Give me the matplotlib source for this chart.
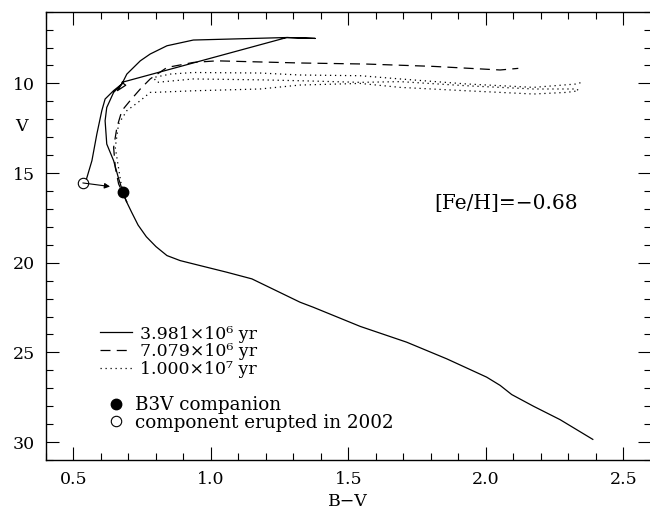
import matplotlib
matplotlib.use("Agg")
import matplotlib.pyplot as plt
from matplotlib.ticker import MultipleLocator

plt.rcParams['font.family'] = ['DejaVu Serif']
plt.rcParams['mathtext.fontset'] = 'dejavuserif'

# ---- data (B-V, V) ----
iso1_bv = [2.389, 2.27, 2.173, 2.094, 2.052, 2.003, 1.858, 1.712, 1.543, 1.372, 1.324,
           1.149, 1.058, 0.961, 0.888, 0.840, 0.800, 0.765, 0.735, 0.712, 0.694, 0.680,
           0.664, 0.646, 0.621, 0.615, 0.621, 0.646, 0.676, 0.660, 0.690, 0.676,
           1.276, 1.379, 1.276, 1.058, 0.936, 0.840, 0.779, 0.743, 0.694, 0.676,
           0.646, 0.615, 0.603, 0.585, 0.567, 0.549, 0.545]
iso1_v = [29.85, 28.75, 28.0, 27.35, 26.84, 26.38, 25.36, 24.43, 23.55, 22.48, 22.2,
          20.9, 20.53, 20.16, 19.88, 19.6, 19.1, 18.55, 17.9, 17.2, 16.63, 16.07,
          15.3, 14.31, 13.38, 12.08, 11.34, 10.5, 10.03, 10.4, 10.1, 9.94,
          7.44, 7.49, 7.44, 7.53, 7.58, 7.9, 8.36, 8.74, 9.48, 10.03,
          10.4, 10.87, 11.52, 12.82, 14.31, 15.24, 15.45]

iso2_bv = [0.694, 0.664, 0.652, 0.646, 0.658, 0.676, 0.706, 0.743, 0.779, 0.840,
           0.936, 1.021, 1.324, 1.567, 1.809, 2.052, 2.118]
iso2_v = [16.63, 15.6, 14.68, 13.57, 12.45, 11.52, 10.96, 10.31, 9.75, 9.11,
          8.83, 8.74, 8.86, 8.92, 9.05, 9.25, 9.16]

iso3_bv = [0.694, 0.672, 0.652, 0.664, 0.694, 0.743, 0.779,
           0.791, 0.936, 1.179, 1.324, 1.543, 1.688, 1.93, 2.173, 2.294, 2.337,
           2.331, 2.173, 1.93, 1.688, 1.543, 1.324, 1.179, 0.936, 0.803,
           0.791, 0.852, 0.936, 1.179, 1.324, 1.543, 1.688, 1.93, 2.173, 2.331, 2.355]
iso3_v = [16.63, 15.5, 13.57, 12.26, 11.52, 10.96, 10.5,
          10.5, 10.41, 10.31, 10.09, 10.0, 10.22, 10.41, 10.59, 10.5, 10.41,
          10.31, 10.31, 10.13, 9.9, 9.94, 9.85, 9.8, 9.75, 9.94,
          9.67, 9.48, 9.39, 9.42, 9.53, 9.57, 9.75, 10.03, 10.22, 10.03, 9.9]

companion = (0.680, 16.07)
erupted = (0.534, 15.55)
arrow_end = (0.633, 15.75)

labels = ["3.981×10⁶ yr", "7.079×10⁶ yr", "1.000×10⁷ yr"]
star_labels = ["B3V companion", "component erupted in 2002"]
feh_text = "[Fe/H]=−0.68"

# ---- figure ----
fig = plt.figure(figsize=(6.5, 5.11), dpi=100)
ax = fig.add_axes([46/650, 51/511, 604.8/650, 448.3/511])

lw = 0.9
l1, = ax.plot(iso1_bv, iso1_v, color='k', lw=lw, ls='-')
l2, = ax.plot(iso2_bv, iso2_v, color='k', lw=lw, ls=(0, (8, 5)))
l3, = ax.plot(iso3_bv, iso3_v, color='k', lw=lw, ls=(0, (1, 3)))

m1, = ax.plot([companion[0]], [companion[1]], 'o', color='k', ms=7.5, ls='none')
m2, = ax.plot([erupted[0]], [erupted[1]], 'o', mfc='white', mec='k', mew=0.8, ms=7.5, ls='none')
ax.annotate("", xy=arrow_end, xytext=erupted,
            arrowprops=dict(arrowstyle='-|>', lw=0.8, color='k', mutation_scale=8,
                            shrinkA=0, shrinkB=0))

ax.text(2.073, 16.72, feh_text, fontsize=14.5, ha='center', va='center')

ax.set_xlim(0.4, 2.6)
ax.set_ylim(31, 6)
ax.xaxis.set_minor_locator(MultipleLocator(0.1))
ax.yaxis.set_major_locator(MultipleLocator(5))
ax.yaxis.set_minor_locator(MultipleLocator(1))
ax.set_xticks([0.5, 1.0, 1.5, 2.0, 2.5])
ax.set_xticklabels(["0.5", "1.0", "1.5", "2.0", "2.5"])
ax.tick_params(which='both', direction='in', top=True, right=True, labelsize=12.5, width=0.8)
ax.tick_params(which='major', length=9.5, pad=8)
ax.tick_params(which='minor', length=5)
for s in ax.spines.values():
    s.set_linewidth(1.0)

ax.set_xlabel("B−V", fontsize=12.5, va='center')
ax.xaxis.set_label_coords(0.4993, -0.093)
ax.set_ylabel("V", fontsize=12.5, rotation=0, va='center', ha='center')
ax.yaxis.set_label_coords(-0.040, 0.7435)

leg1 = ax.legend([l1, l2, l3], labels, loc='upper left', bbox_to_anchor=(0.0893, 0.300),
                 frameon=False, fontsize=12.5, handlelength=1.84, handletextpad=0.46,
                 labelspacing=0.05, borderpad=0, borderaxespad=0)
ax.add_artist(leg1)
ax.legend([m1, m2], star_labels, loc='upper left', bbox_to_anchor=(0.100, 0.142),
          frameon=False, fontsize=13.2, handlelength=1.0, handletextpad=0.55,
          labelspacing=-0.04, borderpad=0, borderaxespad=0, numpoints=1)

fig.savefig("out.png", dpi=100)
